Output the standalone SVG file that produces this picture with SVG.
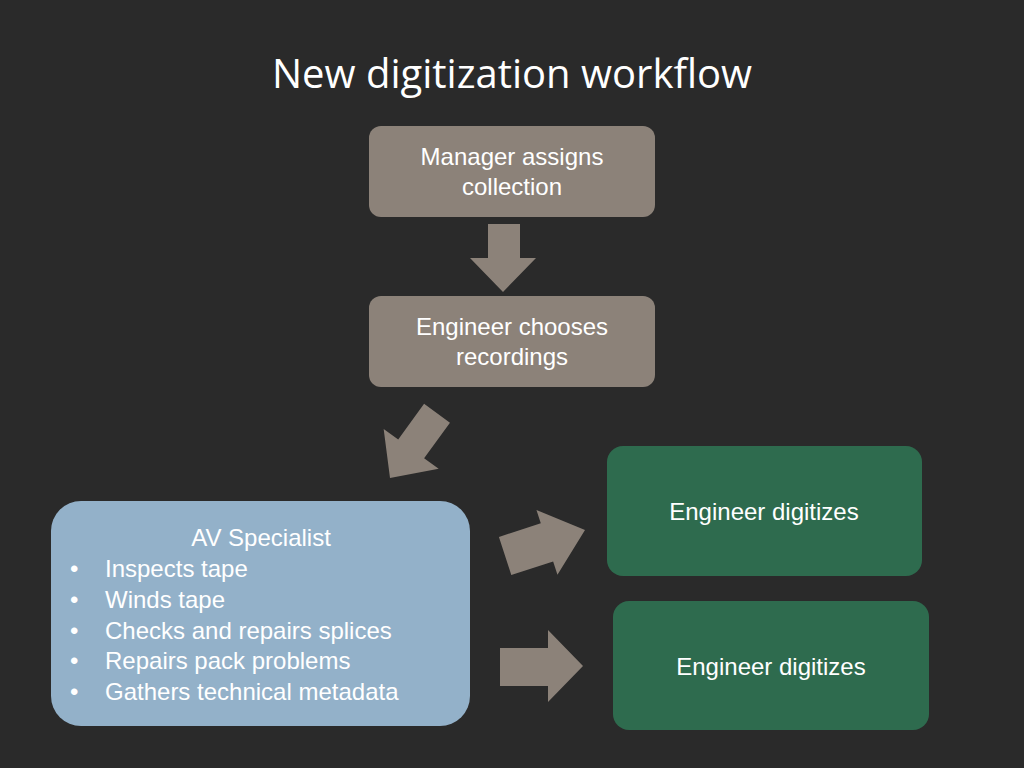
<svg xmlns="http://www.w3.org/2000/svg" width="1024" height="768" viewBox="0 0 1024 768">
<style>
.t{font-family:"Liberation Sans",Arial,sans-serif;font-size:24px;fill:#fff}
.arr{fill:#8c8279}
</style>
<rect width="1024" height="768" fill="#2a2a2a"/>
<text x="512" y="88" text-anchor="middle" font-family="Open Sans,Noto Sans,sans-serif" font-size="40" fill="#fff">New digitization workflow</text>
<g id="connectors">
<polygon class="arr" points="488,224 520,224 520,258 536,258 503,292 470,258 488,258"/>
<polygon class="arr" transform="translate(390,478) rotate(36)" points="-16,-80 16,-80 16,-36 34,-36 0,0 -34,-36 -16,-36"/>
<polygon class="arr" transform="translate(585,530) rotate(-18)" points="-84,-20 -40,-20 -40,-34 0,0 -40,34 -40,20 -84,20"/>
<polygon class="arr" points="500,648 548,648 548,630 583,666 548,702 548,686 500,686"/>
</g>
<g id="n1"><rect x="369" y="126" width="286" height="91" rx="12" fill="#8c8279"/>
<text class="t" x="512" y="165" text-anchor="middle">Manager assigns</text><text class="t" x="512" y="195" text-anchor="middle">collection</text></g>
<g id="n2"><rect x="369" y="296" width="286" height="91" rx="12" fill="#8c8279"/>
<text class="t" x="512" y="335" text-anchor="middle">Engineer chooses</text><text class="t" x="512" y="365" text-anchor="middle">recordings</text></g>
<g id="n3"><rect x="51" y="501" width="419" height="225" rx="30" fill="#93b1c9"/>
<text class="t" x="261" y="546" text-anchor="middle">AV Specialist</text>
<g class="t"><text x="70" y="577">•</text><text x="105" y="577">Inspects tape</text>
<text x="70" y="608">•</text><text x="105" y="608">Winds tape</text>
<text x="70" y="639">•</text><text x="105" y="639">Checks and repairs splices</text>
<text x="70" y="669">•</text><text x="105" y="669">Repairs pack problems</text>
<text x="70" y="700">•</text><text x="105" y="700">Gathers technical metadata</text></g></g>
<g id="n4"><rect x="607" y="446" width="315" height="130" rx="16" fill="#2e6b4e"/>
<text class="t" x="764" y="520" text-anchor="middle">Engineer digitizes</text></g>
<g id="n5"><rect x="613" y="601" width="316" height="129" rx="16" fill="#2e6b4e"/>
<text class="t" x="771" y="675" text-anchor="middle">Engineer digitizes</text></g>
</svg>
